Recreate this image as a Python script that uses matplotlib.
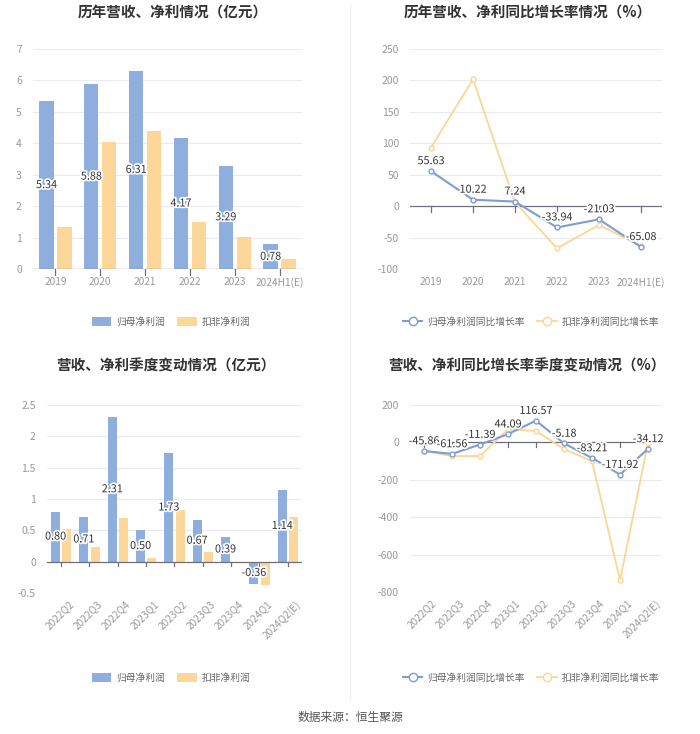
import numpy as np
import matplotlib
matplotlib.use('Agg')
import matplotlib.pyplot as plt
import matplotlib.patheffects as pe
from matplotlib.lines import Line2D
from matplotlib.patches import Patch

plt.rcParams['font.family'] = ['Noto Sans CJK SC', 'DejaVu Sans']
plt.rcParams['axes.unicode_minus'] = False

# ---- data ----
years = ['2019', '2020', '2021', '2022', '2023', '2024H1(E)']
profit_y = [5.34, 5.88, 6.31, 4.17, 3.29, 0.78]
deduct_y = [1.33, 4.05, 4.38, 1.48, 1.03, 0.33]
profit_y_g = [55.63, 10.22, 7.24, -33.94, -21.03, -65.08]
deduct_y_g = [93, 202, 6, -67, -30, -63]

quarters = ['2022Q2', '2022Q3', '2022Q4', '2023Q1', '2023Q2', '2023Q3', '2023Q4', '2024Q1', '2024Q2(E)']
profit_q = [0.80, 0.71, 2.31, 0.50, 1.73, 0.67, 0.39, -0.36, 1.14]
deduct_q = [0.52, 0.24, 0.69, 0.06, 0.82, 0.16, 0.0, -0.38, 0.72]
profit_q_g = [-45.86, -61.56, -11.39, 44.09, 116.57, -5.18, -83.21, -171.92, -34.12]
deduct_q_g = [-46, -73, -73, 70, 61, -36, -100, -737, -5]

BLUE = '#8eaedd'
ORANGE = '#fdd69a'
LBLUE = '#7e9dd3'
LORANGE = '#fcd593'
GRID = '#e8ebf2'
TICK = '#999999'
AXIS = '#6e7079'

W, H = 700, 734
fig = plt.figure(figsize=(W / 100, H / 100), dpi=100)


def px_axes(x0, y0, x1, y1):
    return fig.add_axes([x0 / W, 1 - y1 / H, (x1 - x0) / W, (y1 - y0) / H])


def style(ax, yticks, ylabels, ylim, n):
    ax.set_xlim(-0.5, n - 0.5)
    ax.set_ylim(*ylim)
    ax.set_yticks(yticks)
    ax.set_yticklabels(ylabels, color=TICK, fontsize=7.5)
    ax.tick_params(axis='y', length=0, pad=8)
    for s in ['top', 'right', 'left', 'bottom']:
        ax.spines[s].set_visible(False)
    for t in yticks:
        if t != 0:
            ax.axhline(t, color=GRID, lw=0.8, zorder=0)
    ax.set_xticks([])
    # zero axis line with ticks
    ax.axhline(0, color=AXIS, lw=0.9, zorder=3)
    span = ylim[1] - ylim[0]
    for i in range(n):
        ax.plot([i, i], [0, -span * 0.025], color=AXIS, lw=0.9, zorder=3, clip_on=False)


def xlabels(ax, labels, rotate=False):
    tr = ax.get_xaxis_transform()
    for i, lab in enumerate(labels):
        if rotate:
            ax.text(i + 0.25, -0.03, lab, transform=tr, rotation=45, ha='right', va='top',
                    color=TICK, fontsize=7.3, rotation_mode='anchor')
        else:
            ax.text(i, -0.035, lab, transform=tr, ha='center', va='top', color=TICK, fontsize=7.3)


stroke = [pe.withStroke(linewidth=2.5, foreground='white')]


def bar_chart(ax, cats, a, b, rotate):
    x = np.arange(len(cats))
    ax.bar(x - 0.2, a, width=0.32, color=BLUE, zorder=2)
    ax.bar(x + 0.2, b, width=0.32, color=ORANGE, zorder=2)
    for i, v in enumerate(a):
        ax.text(i - 0.2, v / 2, f'{v:.2f}', ha='center', va='center', fontsize=7.8,
                color='#333333', path_effects=stroke, zorder=5)
    xlabels(ax, cats, rotate)


def line_chart(ax, cats, a, b, off, rotate):
    x = np.arange(len(cats))
    ax.plot(x, b, color=LORANGE, lw=1.3, marker='o', ms=3.5, mfc='white', mec=LORANGE, mew=1, zorder=4)
    ax.plot(x, a, color=LBLUE, lw=1.5, marker='o', ms=3.5, mfc='white', mec=LBLUE, mew=1, zorder=5)
    for i, v in enumerate(a):
        ax.text(i, v + off, f'{v:.2f}', ha='center', va='bottom', fontsize=7.8,
                color='#333333', path_effects=stroke, zorder=6)
    xlabels(ax, cats, rotate)


# top-left
ax1 = px_axes(33, 49, 302, 269)
style(ax1, [0, 1, 2, 3, 4, 5, 6, 7], ['0', '1', '2', '3', '4', '5', '6', '7'], (0, 7), len(years))
bar_chart(ax1, years, profit_y, deduct_y, False)

# top-right
ax2 = px_axes(410, 49, 662, 269)
yt = [-100, -50, 0, 50, 100, 150, 200, 250]
style(ax2, yt, [str(v) for v in yt], (-100, 250), len(years))
line_chart(ax2, years, profit_y_g, deduct_y_g, 8, False)

# bottom-left
ax3 = px_axes(47, 405, 302, 593)
yt = [-0.5, 0, 0.5, 1, 1.5, 2, 2.5]
style(ax3, yt, ['-0.5', '0', '0.5', '1', '1.5', '2', '2.5'], (-0.5, 2.5), len(quarters))
bar_chart(ax3, quarters, profit_q, deduct_q, True)

# bottom-right
ax4 = px_axes(410, 405, 662, 592)
yt = [-800, -600, -400, -200, 0, 200]
style(ax4, yt, [str(v) for v in yt], (-800, 200), len(quarters))
line_chart(ax4, quarters, profit_q_g, deduct_q_g, 25, True)

# titles
tkw = dict(ha='center', va='center', fontsize=10.5, fontweight='bold', color='#333333')
fig.text(173 / W, 1 - 13 / H, '历年营收、净利情况（亿元）', **tkw)
fig.text(528 / W, 1 - 13 / H, '历年营收、净利同比增长率情况（%）', **tkw)
fig.text(166 / W, 1 - 366 / H, '营收、净利季度变动情况（亿元）', **tkw)
fig.text(527 / W, 1 - 366 / H, '营收、净利同比增长率季度变动情况（%）', **tkw)

# divider
fig.add_artist(Line2D([350 / W, 350 / W], [1 - 5 / H, 1 - 700 / H], color='#f2f2f2', lw=1))

# legends
bar_handles = [Patch(facecolor=BLUE, edgecolor='none'), Patch(facecolor=ORANGE, edgecolor='none')]
bar_labels = ['归母净利润', '扣非净利润']
line_handles = [Line2D([], [], color=LBLUE, marker='o', ms=6, mfc='white', mec=LBLUE, lw=1.5),
                Line2D([], [], color=LORANGE, marker='o', ms=6, mfc='white', mec=LORANGE, lw=1.3)]
line_labels = ['归母净利润同比增长率', '扣非净利润同比增长率']
lkw = dict(loc='center', ncol=2, frameon=False, fontsize=7, handlelength=2.0,
           handleheight=1.0, columnspacing=1.3, handletextpad=0.5, labelcolor='#666666')
fig.legend(bar_handles, bar_labels, bbox_to_anchor=(171 / W, 1 - 322 / H), **lkw)
fig.legend(line_handles, line_labels, bbox_to_anchor=(531 / W, 1 - 322 / H), **lkw)
fig.legend(bar_handles, bar_labels, bbox_to_anchor=(171 / W, 1 - 678 / H), **lkw)
fig.legend(line_handles, line_labels, bbox_to_anchor=(531 / W, 1 - 678 / H), **lkw)

fig.text(350 / W, 1 - 717 / H, '数据来源：恒生聚源', ha='center', va='center', fontsize=8.5, color='#555555')

fig.savefig('out.png', dpi=100, facecolor='white')
